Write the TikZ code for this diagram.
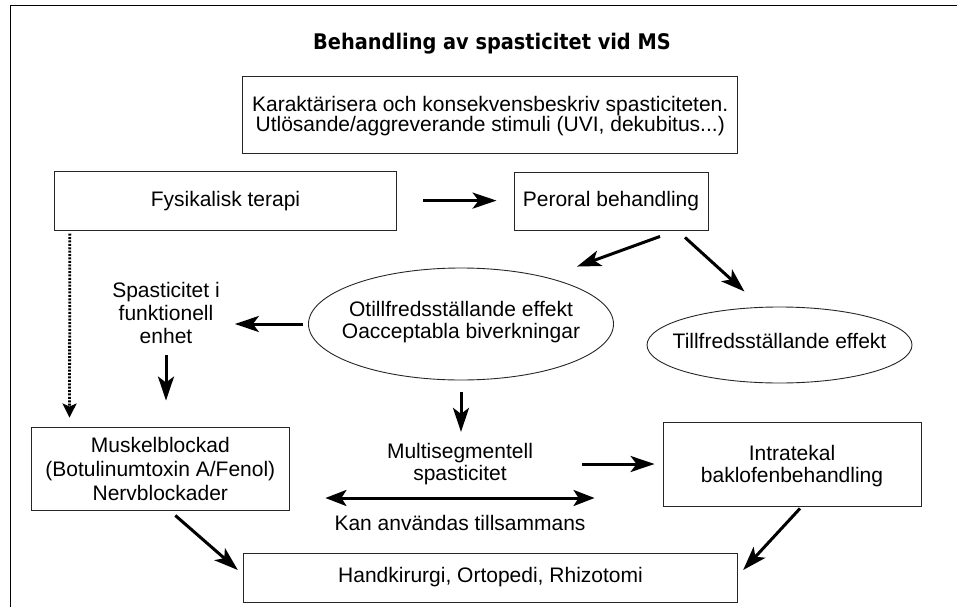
\documentclass[tikz,border=0pt]{standalone}
\usepackage{fontspec}
\setmainfont{Liberation Sans}
\newfontfamily\titlefont{DejaVu Sans Condensed}
\usetikzlibrary{arrows.meta,shapes.geometric}

\begin{document}
\begin{tikzpicture}[x=1pt,y=-1pt,
	font=\fontsize{21}{22}\selectfont,
	box/.style={draw=black!85,line width=0.9pt,inner sep=0pt,align=center},
	oval/.style={draw=black!85,line width=0.9pt,ellipse,inner sep=0pt},
	txt/.style={inner sep=0pt,align=center,anchor=base},
	arr/.style={line width=3pt,-{Stealth[length=24pt,width=16pt,inset=6pt]}},
	arrboth/.style={line width=3pt,{Stealth[length=21pt,width=16pt,inset=5pt]}-{Stealth[length=21pt,width=16pt,inset=5pt]}},
	dots/.style={line width=2.8pt,dash pattern=on 2pt off 1.4pt,-{Stealth[length=14pt,width=14pt,inset=3pt]}}]
	\useasboundingbox (0,0) rectangle (957,607);
	\draw[line width=1pt] (957,6) -- (10.7,6) -- (10.7,607);
	
	\node[txt,font=\titlefont\bfseries\fontsize{21.5}{24}\selectfont] (title) at (492,50) {Behandling av spasticitet vid MS};
	\node[box,minimum width=495pt,text height=55.7pt,text depth=21.6pt,font=\fontsize{21}{20}\selectfont] (kar) at (490.2,114.65)
		{Karaktärisera och konsekvensbeskriv spasticiteten.\\Utlösande/aggreverande stimuli (UVI, dekubitus...)};
	\node[box,minimum width=342.4pt,text height=35.7pt,text depth=23.5pt] (fys) at (225.5,200.6) {Fysikalisk terapi};
	\node[box,minimum width=194pt,text height=34.7pt,text depth=23.3pt] (per) at (611,201) {Peroral behandling};
	\node[oval,minimum width=305pt,minimum height=112pt,
		label={[align=center,yshift=2pt]center:Otillfredsställande effekt\\Oacceptabla biverkningar}] (oti) at (461,324) {};
	\node[oval,minimum width=265pt,minimum height=76pt,
		label={[yshift=4.5pt]center:Tillfredsställande effekt}] (til) at (779.5,345) {};
	\node[txt,font=\fontsize{21}{23}\selectfont] (spa) at (166,343) {Spasticitet i\\funktionell\\enhet};
	\node[box,minimum width=257.3pt,text height=73pt,text depth=10pt,font=\fontsize{21}{24}\selectfont] (mus) at (160.3,468.5)
		{Muskelblockad\\(Botulinumtoxin A/Fenol)\\Nervblockader};
	\node[txt] (mul) at (460,480) {Multisegmentell\\spasticitet};
	\node[box,minimum width=258pt,text height=60pt,text depth=24pt] (int) at (792,464) {Intratekal\\baklofenbehandling};
	\node[txt] (kan) at (460,530) {Kan användas tillsammans};
	\node[box,minimum width=494.4pt,text height=29pt,text depth=20pt] (han) at (490.5,577.5) {Handkirurgi, Ortopedi, Rhizotomi};
	
	\draw[arr,shorten <=26pt,shorten >=17pt] (fys.east) -- (fys.east -| per.west);
	\draw[arr] ([xshift=49pt,yshift=-6pt]per.south) -- ([xshift=116pt,yshift=1pt]oti.north);
	\draw[arr] ([xshift=74pt,yshift=-7pt]per.south) -- ([xshift=-35pt,yshift=15pt]til.north);
	\draw[arr,shorten <=5.5pt,shorten >=15pt] (oti.west) -- (oti.west -| spa.east);
	\draw[arr,shorten <=12pt,shorten >=26pt] (spa.south) -- (spa.south |- mus.north);
	\draw[dots] ([xshift=16pt,yshift=-3pt]fys.south west) -- ([xshift=38.3pt,yshift=9pt]mus.north west);
	\draw[arr,shorten <=12pt,shorten >=10.7pt] (oti.south) -- (oti.south |- mul.north);
	\draw[arr,shorten <=49pt,shorten >=8pt] (mul.east |- int.west) -- (int.west);
	\draw[arrboth,shorten <=36pt,shorten >=68pt] ([yshift=-29.5pt]mus.east) -- ([yshift=-29.5pt]mus.east -| int.west);
	\draw[arr] ([xshift=15pt,yshift=-5pt]mus.south) -- ([xshift=-5pt,yshift=7.5pt]han.west);
	\draw[arr] ([xshift=8pt,yshift=-2pt]int.south) -- ([xshift=5pt,yshift=7.5pt]han.east);
\end{tikzpicture}
\end{document}
